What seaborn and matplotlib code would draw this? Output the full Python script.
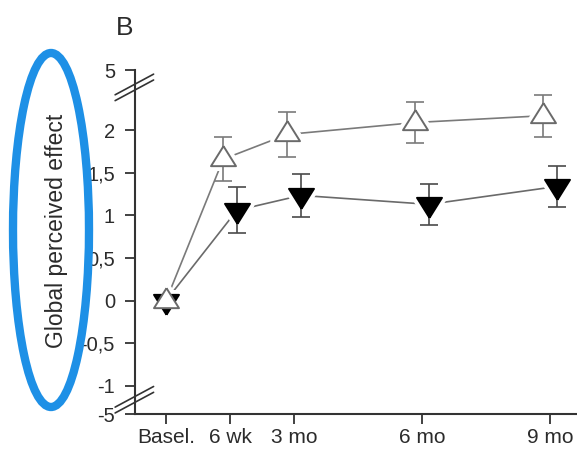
import numpy as np
import pandas as pd
import matplotlib
matplotlib.use("Agg")
import matplotlib.pyplot as plt
import seaborn as sns
from matplotlib.patches import Ellipse
from matplotlib.markers import MarkerStyle

# time points (months) and their labels
months = [0, 1.5, 3, 6, 9]
tick_labels = ["Basel.", "6 wk", "3 mo", "6 mo", "9 mo"]

# open triangles (upper group)
open_mean = [0, 1.66, 1.95, 2.09, 2.17]
open_err = [0, 0.26, 0.26, 0.245, 0.245]

# filled triangles (lower group)
filled_mean = [0, 1.06, 1.235, 1.13, 1.34]
filled_err = [0, 0.27, 0.255, 0.24, 0.237]

# y axis ticks (with broken ends at -5 and 5)
ytick_vals = [-1, -0.5, 0, 0.5, 1, 1.5, 2]
ytick_text = ["-1", "-0,5", "0", "0,5", "1", "1,5", "2"]
break_labels = ["-5", "5"]

sns.set_style("ticks")
plt.rcParams["font.family"] = ["Liberation Sans", "DejaVu Sans"]

fig = plt.figure(figsize=(5.77, 4.5), dpi=100)
ax = fig.add_axes([0.234, 0.08, 0.766, 0.7644])

ylo, yhi = -1.33, 2.706
dodge = 0.16

# triangles centred on their centroid (wider than tall)
up_tri = MarkerStyle([(0, 0.667), (-0.625, -0.333), (0.625, -0.333), (0, 0.667)])
down_tri = MarkerStyle([(0, -0.667), (0.625, 0.333), (-0.625, 0.333), (0, -0.667)])
msize = 19.2 ** 2


def draw_group(mean, err, marker, face, edge, line_c, err_c, shift, z):
    x = np.array(months, dtype=float)
    x = np.where(x == 0, x, x + shift)
    df = pd.DataFrame({"x": x, "y": mean, "err": err})
    sns.lineplot(data=df, x="x", y="y", ax=ax, sort=False, color=line_c,
                 linewidth=1.2, zorder=1)
    # white halo so lines stop short of the markers
    sns.scatterplot(data=df, x="x", y="y", ax=ax, marker=marker, s=msize,
                    color="white", edgecolor="white", linewidth=7, zorder=2)
    m = df["err"] > 0
    ax.errorbar(df.loc[m, "x"], df.loc[m, "y"], yerr=df.loc[m, "err"],
                fmt="none", ecolor=err_c, elinewidth=1.2, capsize=6.5,
                capthick=1.2, zorder=2.5)
    sns.scatterplot(data=df, x="x", y="y", ax=ax, marker=marker, s=msize,
                    color=face, edgecolor=edge, linewidth=1.4, zorder=z)


draw_group(filled_mean, filled_err, down_tri, "black", "black", "#6a6a6a", "#4a4a4a", dodge, 3)
draw_group(open_mean, open_err, up_tri, "white", "#6a6a6a", "#7a7a7a", "#7a7a7a", -dodge, 4)

ax.set_xlim(-0.727, 9.63)
ax.set_ylim(ylo, yhi)
ax.set_xticks(months)
ax.set_xticklabels(tick_labels)
ax.set_yticks([ylo] + ytick_vals + [yhi])
ax.set_yticklabels([break_labels[0]] + ytick_text + [break_labels[1]])
ax.set_xlabel("")
ax.set_ylabel("")

for s in ["top", "right"]:
    ax.spines[s].set_visible(False)
for s in ["left", "bottom"]:
    ax.spines[s].set_color("#333333")
    ax.spines[s].set_linewidth(1.5)
ax.tick_params(axis="both", colors="#333333", labelcolor="#2b2b2b", width=1.3)
ax.tick_params(axis="y", length=7, pad=7.5, labelsize=14.5)
ax.tick_params(axis="x", length=7.5, pad=2.5, labelsize=15)

# axis break marks
for yc in (0.958, 0.941, 0.050, 0.033):
    ax.plot([-0.045, 0.042], [yc - 0.03, yc + 0.03], transform=ax.transAxes,
            color="#333333", lw=1.2, clip_on=False)

fig.text(56 / 577, 1 - 231 / 450, "Global perceived effect", rotation=90,
         ha="center", va="center", fontsize=16.5, color="#2b2b2b")
fig.text(125 / 577, 1 - 28 / 450, "B", ha="center", va="center",
         fontsize=19, color="#2b2b2b")

ell = Ellipse((51 / 577, 1 - 230 / 450), 76 / 577, 354 / 450,
              transform=fig.transFigure, fill=False, edgecolor="#1e90e6",
              linewidth=6, zorder=10)
fig.patches.append(ell)

fig.savefig("out.png", dpi=100)
plt.close(fig)
